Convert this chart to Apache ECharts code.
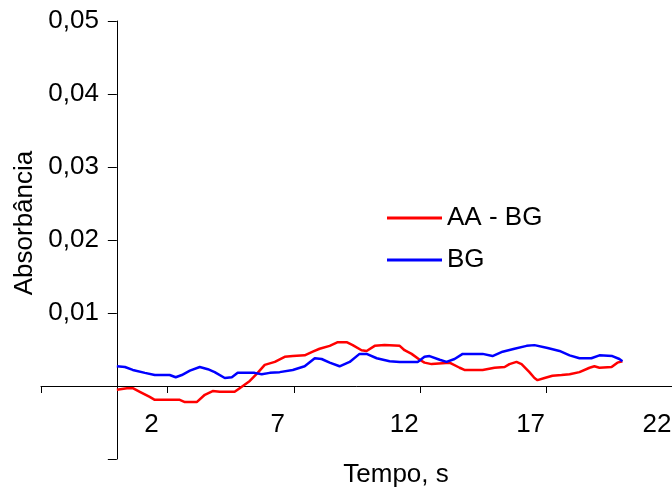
<!DOCTYPE html>
<html>
<head>
<meta charset="utf-8">
<script src="https://cdn.jsdelivr.net/npm/echarts@6/dist/echarts.min.js"></script>
<style>
  html, body { margin: 0; padding: 0; background: #fff; }
  #chart { width: 672px; height: 490px; }
</style>
</head>
<body>
<div id="chart"></div>
<script>
// Time (s) and absorbance readings for both traces
const timeBG = [0.00,0.32,0.63,1.11,1.50,2.09,2.33,2.57,2.89,3.28,3.60,3.87,4.27,4.55,4.78,5.45,5.73,6.05,6.44,6.96,7.43,7.83,8.10,8.42,8.81,9.21,9.60,9.88,10.28,10.79,11.19,11.90,12.17,12.37,12.77,13.04,13.36,13.68,14.47,14.86,15.26,15.73,16.21,16.52,17.04,17.51,17.91,18.30,18.77,19.09,19.60,19.88,20.00];
const absBG = [0.0027,0.0026,0.0022,0.0018,0.0015,0.0015,0.0012,0.0015,0.0021,0.0026,0.0023,0.0019,0.0011,0.0012,0.0018,0.0018,0.0016,0.0018,0.0019,0.0022,0.0027,0.0038,0.0037,0.0032,0.0027,0.0033,0.0044,0.0044,0.0038,0.0034,0.0033,0.0033,0.0040,0.0041,0.0036,0.0033,0.0037,0.0044,0.0044,0.0041,0.0047,0.0051,0.0055,0.0056,0.0052,0.0048,0.0042,0.0038,0.0038,0.0042,0.0041,0.0037,0.0034];

const timeAA = [0.00,0.40,0.63,0.91,1.30,1.50,1.90,2.49,2.69,3.16,3.48,3.79,4.07,4.66,4.86,5.26,5.57,5.85,6.25,6.64,6.96,7.43,7.75,8.02,8.42,8.74,9.09,9.33,9.68,9.88,10.20,10.59,11.19,11.38,11.66,11.98,12.17,12.45,13.16,13.56,13.75,14.47,14.94,15.34,15.53,15.81,16.01,16.32,16.52,16.64,16.92,17.23,17.59,17.91,18.30,18.70,18.89,19.09,19.57,19.80,20.00];
const absAA = [-0.0005,-0.0003,-0.0003,-0.0008,-0.0015,-0.0019,-0.0019,-0.0019,-0.0022,-0.0022,-0.0012,-0.0007,-0.0008,-0.0008,-0.0003,0.0007,0.0018,0.0029,0.0033,0.0040,0.0041,0.0042,0.0047,0.0051,0.0055,0.0060,0.0060,0.0056,0.0049,0.0048,0.0055,0.0056,0.0055,0.0049,0.0044,0.0036,0.0032,0.0030,0.0032,0.0025,0.0022,0.0022,0.0025,0.0026,0.0030,0.0033,0.0030,0.0019,0.0011,0.0008,0.0011,0.0014,0.0015,0.0016,0.0019,0.0025,0.0027,0.0025,0.0026,0.0032,0.0034];

const seriesNames = ['AA - BG', 'BG'];
const xTickLabels = ['2', '7', '12', '17', '22'];

const FONT = 'Liberation Sans, Arial, sans-serif';
const FS = 26;
const pairs = (xs, ys) => xs.map((x, i) => [x, ys[i]]);

// Plot area and axis ranges; the axes cross at time 0 / absorbance 0
const G = { left: 41, top: 21, width: 632, height: 438 };
const X_MIN = -3, X_MAX = 22, Y_MIN = -0.01, Y_MAX = 0.05;
const yAxisShift = -G.width * (0 - X_MIN) / (X_MAX - X_MIN);   // move y axis right onto x = 0
const xAxisShift = -G.height * (0 - Y_MIN) / (Y_MAX - Y_MIN);  // move x axis up onto y = 0

const chart = echarts.init(document.getElementById('chart'), null, { renderer: 'canvas' });
chart.setOption({
  animation: false,
  backgroundColor: '#ffffff',
  grid: Object.assign({ containLabel: false, outerBoundsMode: 'none' }, G),
  xAxis: {
    type: 'value',
    min: X_MIN, max: X_MAX, interval: 5,
    offset: xAxisShift,
    axisLine: { onZero: false, lineStyle: { color: '#000', width: 1 } },
    axisTick: { show: true, length: 7, lineStyle: { color: '#000', width: 1 } },
    splitLine: { show: false },
    axisLabel: {
      color: '#000', fontFamily: FONT, fontSize: FS, margin: 26,
      padding: [0, 32, 0, 0],
      formatter: v => (xTickLabels.indexOf(String(v)) >= 0 ? String(v) : '')
    }
  },
  yAxis: {
    type: 'value',
    min: Y_MIN, max: Y_MAX, interval: 0.01,
    offset: yAxisShift,
    axisLine: { show: true, onZero: false, lineStyle: { color: '#000', width: 1 } },
    axisTick: { show: true, length: 9, lineStyle: { color: '#000', width: 1 } },
    splitLine: { show: false },
    axisLabel: {
      color: '#000', fontFamily: FONT, fontSize: FS, margin: 18,
      formatter: v => (v > 0.0001 ? v.toFixed(2).replace('.', ',') : '')
    }
  },
  legend: {
    orient: 'vertical',
    left: 387, top: 203,
    padding: 0,
    itemGap: 12,
    itemWidth: 55, itemHeight: 3,
    icon: 'rect',
    textStyle: { color: '#000', fontFamily: FONT, fontSize: FS, lineHeight: 30 },
    data: seriesNames
  },
  graphic: [
    {
      type: 'text', x: 25, y: 223, rotation: Math.PI / 2,
      style: { text: 'Absorbância', fill: '#000', font: FS + 'px ' + FONT, align: 'center', verticalAlign: 'middle' }
    },
    {
      type: 'text', x: 396, y: 475,
      style: { text: 'Tempo, s', fill: '#000', font: FS + 'px ' + FONT, align: 'center', verticalAlign: 'middle' }
    }
  ],
  series: [
    {
      name: seriesNames[0], type: 'line', data: pairs(timeAA, absAA),
      symbol: 'none', smooth: false,
      lineStyle: { color: '#ff0000', width: 2.5 }, itemStyle: { color: '#ff0000' }
    },
    {
      name: seriesNames[1], type: 'line', data: pairs(timeBG, absBG),
      symbol: 'none', smooth: false,
      lineStyle: { color: '#0000ff', width: 2.5 }, itemStyle: { color: '#0000ff' }
    }
  ]
});
</script>
</body>
</html>
